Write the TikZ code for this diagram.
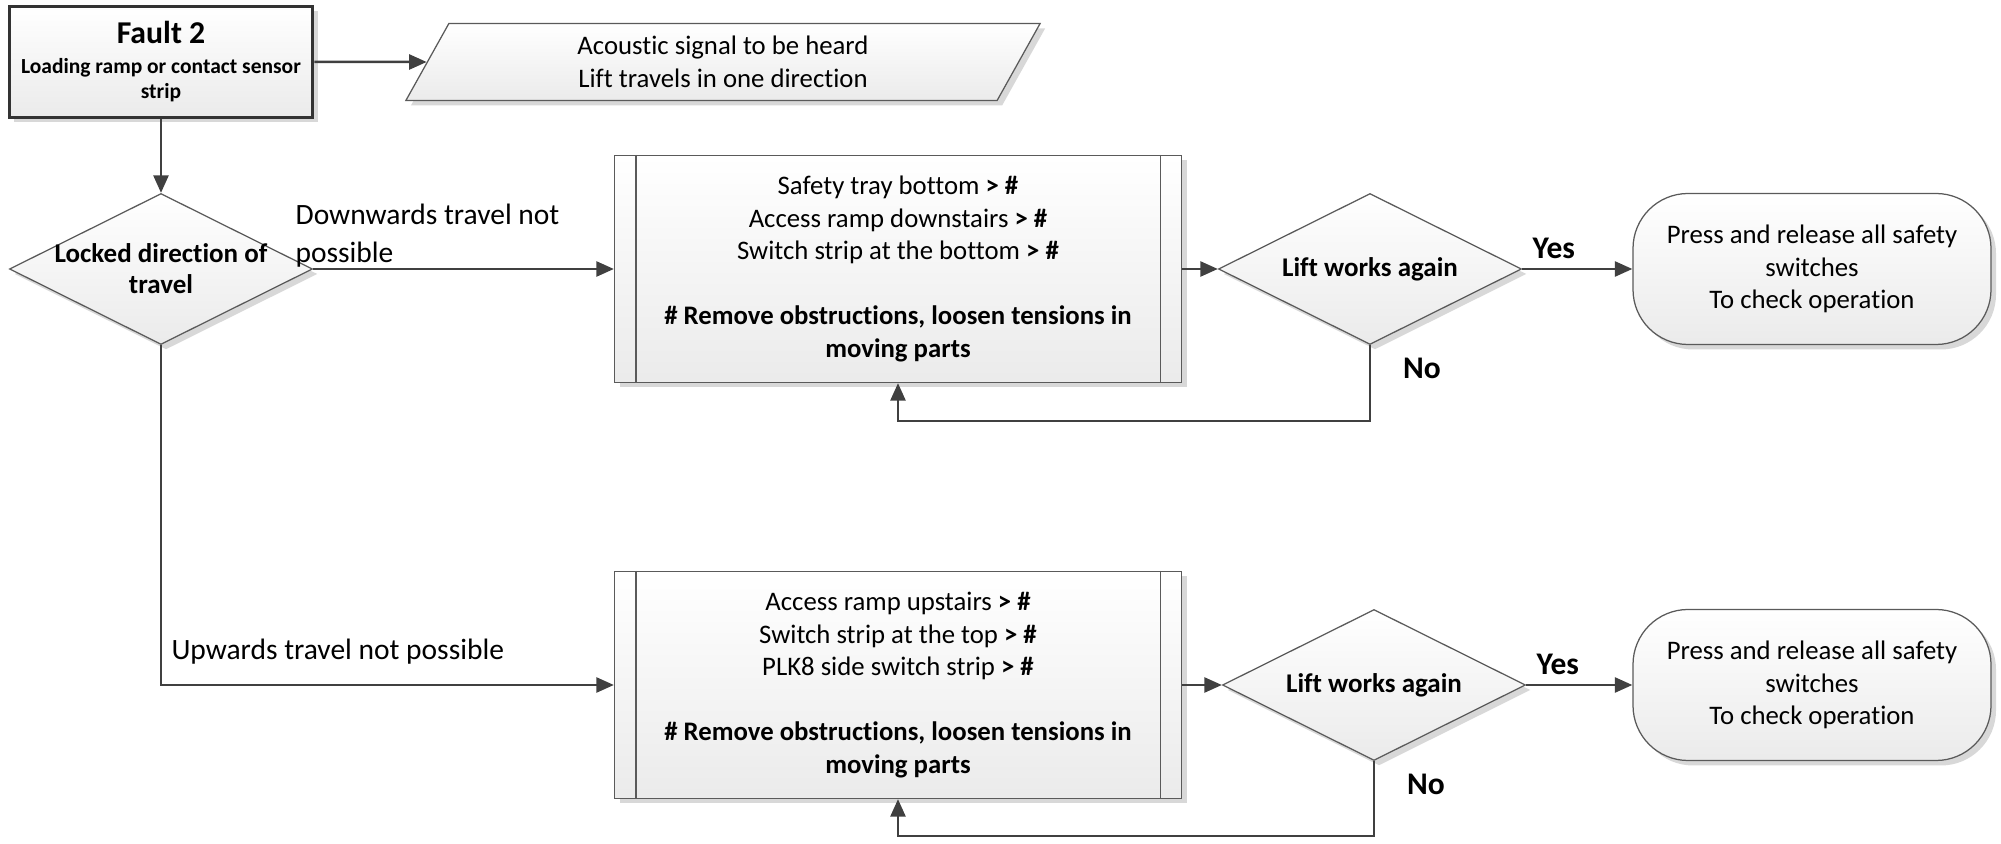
\documentclass[tikz,border=0pt]{standalone}
\usepackage{fontspec}
\setmainfont{Carlito}[Ligatures={NoCommon,NoContextual}]
\usetikzlibrary{shapes.geometric,shadows,arrows.meta}
\definecolor{linegray}{HTML}{404040}
\definecolor{edgegray}{HTML}{5A5A5A}
\tikzstyle{flowfill}=[draw=edgegray, line width=0.5pt, top color=white, bottom color=black!8,
    drop shadow={shadow xshift=2pt, shadow yshift=-2pt, fill=black!30, opacity=0.5}]
\tikzstyle{startbox}=[flowfill, rectangle, draw=black!80, line width=1.4pt, minimum width=121.2pt,
    minimum height=44.4pt, inner sep=0pt, font=\bfseries\fontsize{8.6}{10}\selectfont]
\tikzstyle{iobox}=[flowfill, trapezium, trapezium left angle=66, trapezium right angle=114,
    trapezium stretches, minimum width=254pt, minimum height=30.8pt, inner sep=0pt]
\tikzstyle{decision}=[flowfill, diamond, aspect=2, minimum width=121.2pt, minimum height=60.4pt,
    inner sep=-5pt, font=\bfseries\fontsize{10.8}{12.4}\selectfont]
\tikzstyle{process}=[flowfill, rectangle, minimum width=226.8pt, minimum height=90.8pt, inner sep=0pt]
\tikzstyle{terminal}=[flowfill, rectangle, rounded corners=22pt, minimum width=143.2pt,
    minimum height=60.4pt, inner sep=0pt]
\tikzstyle{flow}=[draw=linegray, line width=1pt, -{Triangle[length=7pt,width=6pt]}]
\tikzstyle{edgelabel}=[inner sep=0pt, align=left, font=\fontsize{11.8}{15}\selectfont]
\tikzstyle{answer}=[inner sep=0pt, font=\bfseries\fontsize{12.6}{14}\selectfont]

\begin{document}
\begin{tikzpicture}[x=0.4pt, y=-0.4pt, align=center, font=\fontsize{10.7}{13}\selectfont]
\useasboundingbox (0,0) rectangle (2001,844);
% Start
    \node[startbox] (fault) at (161,62) {{\fontsize{12.7}{13.6}\selectfont Fault 2}\\[2pt]
        Loading ramp or contact sensor\\ strip};
    \node[iobox] (acoustic) at (723,62) {Acoustic signal to be heard\\ Lift travels in one direction};
    \node[decision] (locked) at (161,269) {Locked direction of\\ travel};
% Downwards branch
    \node[process] (down) at (898,269) {Safety tray bottom \textbf{> \#}\\
        Access ramp downstairs \textbf{> \#}\\
        Switch strip at the bottom \textbf{> \#}\\[13pt]
        \bfseries \# Remove obstructions, loosen tensions in\\
        \bfseries moving parts};
    \node[decision] (worksdown) at (1370,269) {Lift works again};
    \node[terminal] (checkdown) at (1812,269) {Press and release all safety\\ switches\\ To check operation};
% Upwards branch
    \node[process] (up) at (898,685) {Access ramp upstairs \textbf{> \#}\\
        Switch strip at the top \textbf{> \#}\\
        PLK8 side switch strip \textbf{> \#}\\[13pt]
        \bfseries \# Remove obstructions, loosen tensions in\\
        \bfseries moving parts};
    \node[decision] (worksup) at (1374,685) {Lift works again};
    \node[terminal] (checkup) at (1812,685) {Press and release all safety\\ switches\\ To check operation};
% Side bars of the process boxes
    \foreach \proc in {down,up} {
        \draw[edgegray, line width=0.5pt] ([xshift=8.8pt]\proc.north west) -- ([xshift=8.8pt]\proc.south west);
        \draw[edgegray, line width=0.5pt] ([xshift=-8.8pt]\proc.north east) -- ([xshift=-8.8pt]\proc.south east);
    }
% Connectors
    \draw[flow] (fault) -- (acoustic);
    \draw[flow] (fault) -- (locked);
    \draw[flow] (locked.east) -- (down.west);
    \draw[flow] (locked.south) |- (up.west);
    \draw[flow] (down) -- (worksdown);
    \draw[flow] (up) -- (worksup);
    \draw[flow] (worksdown) -- (checkdown);
    \draw[flow] (worksup) -- (checkup);
    \draw[flow] (worksdown.south) -- ++(0,76) -| (down.south);
    \draw[flow] (worksup.south) -- ++(0,75) -| (up.south);
% Labels
    \node[edgelabel, anchor=south west] (downlbl) at ([xshift=-7.2pt, yshift=0.6pt]locked.east)
        {Downwards travel not\\ possible};
    \node[edgelabel, anchor=base west] (uplbl) at (171,660) {Upwards travel not possible};
    \node[answer, anchor=south west] (yesdown) at ([xshift=4pt, yshift=4pt]worksdown.east) {Yes};
    \node[answer, anchor=south west] (yesup) at ([xshift=4pt, yshift=4pt]worksup.east) {Yes};
    \node[answer, anchor=north west] (nodown) at ([xshift=13pt, yshift=-5pt]worksdown.south) {No};
    \node[answer, anchor=north west] (noup) at ([xshift=13pt, yshift=-5pt]worksup.south) {No};
\end{tikzpicture}
\end{document}
